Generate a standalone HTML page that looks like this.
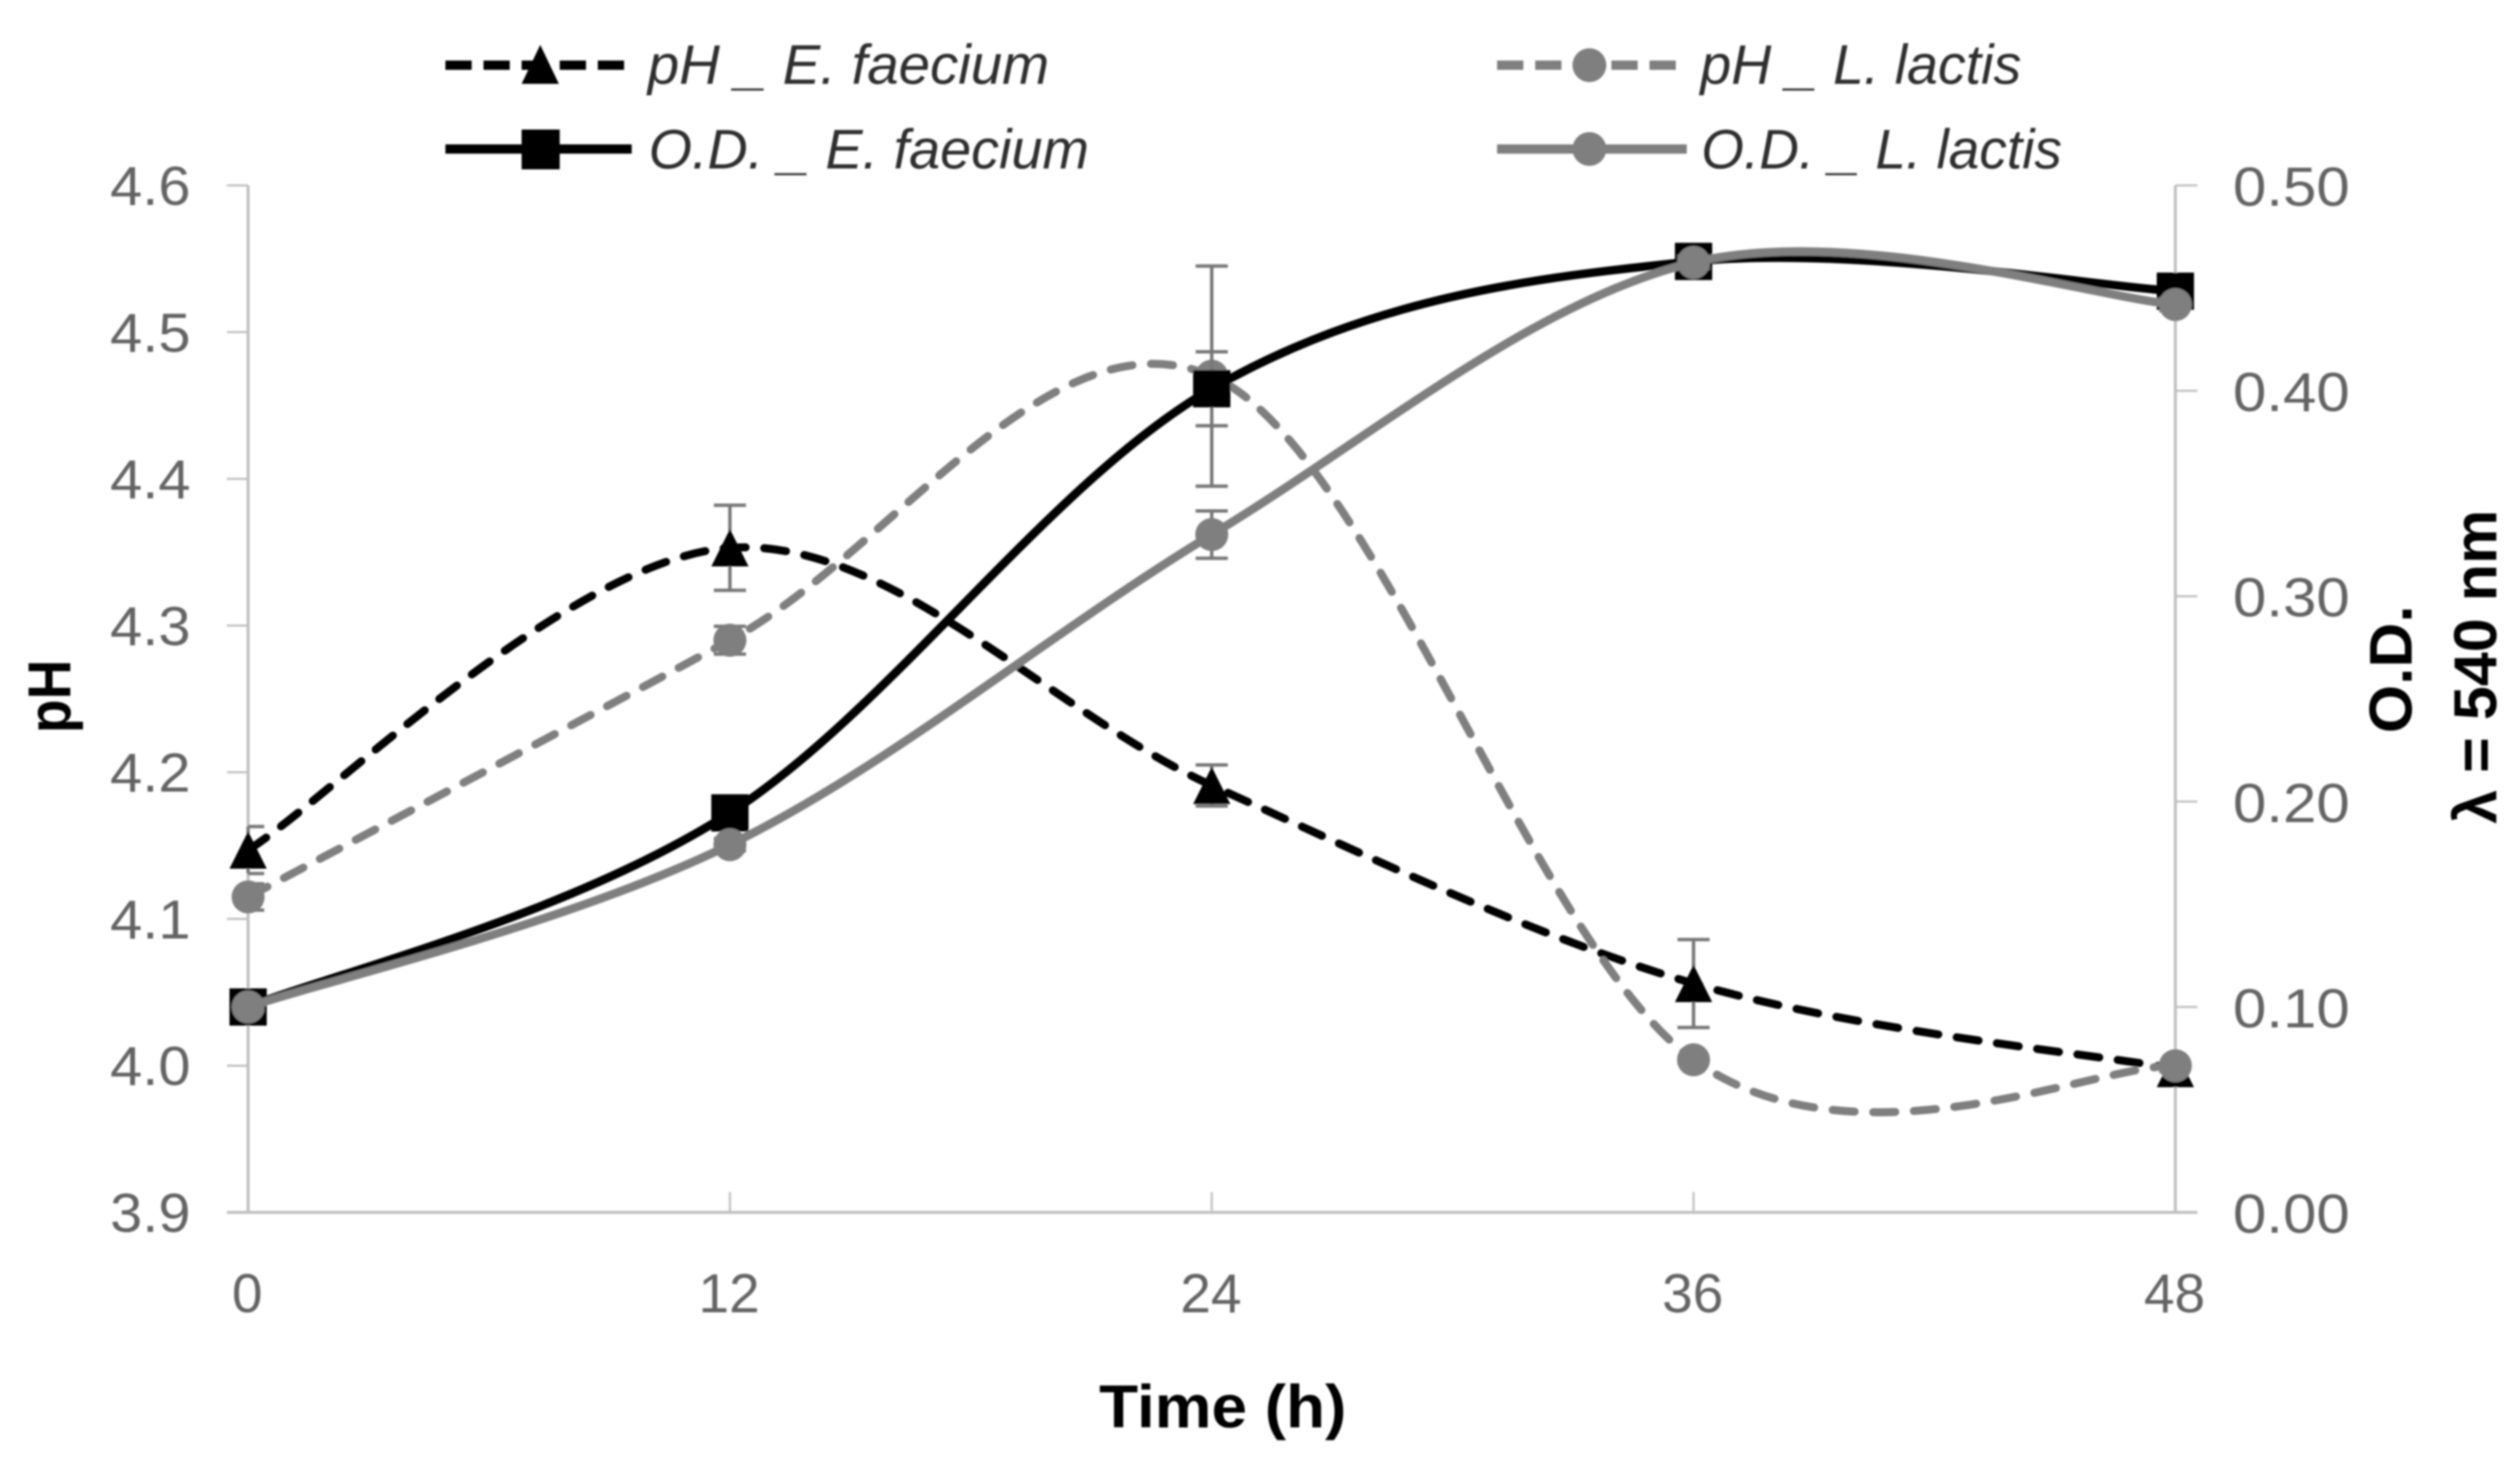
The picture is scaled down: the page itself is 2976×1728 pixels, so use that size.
<!DOCTYPE html>
<html lang="en">
<head>
<meta charset="utf-8">
<title>pH and O.D. over time</title>
<style>
html,body{margin:0;padding:0;background:#fff;width:2976px;height:1728px;overflow:hidden}
svg{display:block}
text{font-family:"Liberation Sans",sans-serif}
.tick{font-size:65px;fill:#646464}
.title{font-size:71px;font-weight:bold;fill:#000}
.leg{font-size:66px;font-style:italic;fill:#2e2e2e}
</style>
</head>
<body>
<svg id="chart" xmlns="http://www.w3.org/2000/svg" width="2976" height="1728" viewBox="0 0 2976 1728">
<defs>
<filter id="soft" filterUnits="userSpaceOnUse" x="0" y="0" width="2976" height="1728"><feGaussianBlur stdDeviation="1.1"/></filter>
</defs>
<rect width="2976" height="1728" fill="#fff"/>
<g id="root" filter="url(#soft)">
  <g id="axes"></g>
  <g id="series"></g>

  <text class="title" x="1298" y="1686" textLength="292" lengthAdjust="spacingAndGlyphs">Time (h)</text>
  <text class="title" transform="translate(83 866) rotate(-90)" textLength="87" lengthAdjust="spacingAndGlyphs">pH</text>
  <text class="title" transform="translate(2848 866) rotate(-90)" textLength="151" lengthAdjust="spacingAndGlyphs">O.D.</text>
  <text class="title" transform="translate(2948 973) rotate(-90)" textLength="371" lengthAdjust="spacingAndGlyphs">λ = 540 nm</text>

  <g>
    <g>
      <line x1="526" y1="77" x2="746" y2="77" stroke="#000" stroke-width="11" stroke-dasharray="31 14"/>
      <polygon points="638,53 660,99 616,99" fill="#000"/>
      <text class="leg" x="765" y="99" textLength="474" lengthAdjust="spacingAndGlyphs">pH _ E. faecium</text>
    </g>
    <g>
      <line x1="1768" y1="77" x2="1992" y2="77" stroke="#7f7f7f" stroke-width="11" stroke-dasharray="31 14"/>
      <circle cx="1877" cy="77" r="20" fill="#7f7f7f"/>
      <text class="leg" x="2008" y="99" textLength="379" lengthAdjust="spacingAndGlyphs">pH _ L. lactis</text>
    </g>
    <g>
      <line x1="526" y1="176" x2="746" y2="176" stroke="#000" stroke-width="11"/>
      <rect x="616" y="153" width="45" height="47" fill="#000"/>
      <text class="leg" x="766" y="199" textLength="520" lengthAdjust="spacingAndGlyphs">O.D. _ E. faecium</text>
    </g>
    <g>
      <line x1="1768" y1="176" x2="1992" y2="176" stroke="#7f7f7f" stroke-width="11"/>
      <circle cx="1877" cy="176" r="20" fill="#7f7f7f"/>
      <text class="leg" x="2009" y="199" textLength="426" lengthAdjust="spacingAndGlyphs">O.D. _ L. lactis</text>
    </g>
  </g>
</g>
</svg>
<script>
// ---- chart data ----
var timeHours = [0, 12, 24, 36, 48];
var phTicks = ["3.9", "4.0", "4.1", "4.2", "4.3", "4.4", "4.5", "4.6"];
var odTicks = ["0.00", "0.10", "0.20", "0.30", "0.40", "0.50"];
var phEfaecium = [4.147, 4.353, 4.191, 4.056, 3.998];
var phEfaeciumErr = [0.016, 0.029, 0.014, 0.030, 0.002];
var phLlactis = [4.115, 4.290, 4.470, 4.004, 4.000];
var phLlactisErr = [0.009, 0.0095, 0.075, 0.002, 0.002];
var odEfaecium = [0.100, 0.1945, 0.401, 0.463, 0.4485];
var odEfaeciumErr = [0.002, 0.003, 0.018, 0.003, 0.003];
var odLlactis = [0.100, 0.179, 0.330, 0.4625, 0.442];
var odLlactisErr = [0.002, 0.003, 0.0115, 0.003, 0.003];

// ---- axis functions ----
var NS = 'http://www.w3.org/2000/svg';
var plotLeft = 293, plotRight = 2569, plotTop = 219, plotBottom = 1432;
var phMin = 3.9, phMax = 4.6, odMin = 0, odMax = 0.5, tMin = 0, tMax = 48;
function xAt(t) { return plotLeft + (t - tMin) / (tMax - tMin) * (plotRight - plotLeft); }
function yPh(v) { return plotBottom - (v - phMin) / (phMax - phMin) * (plotBottom - plotTop); }
function yOd(v) { return plotBottom - (v - odMin) / (odMax - odMin) * (plotBottom - plotTop); }

function mk(tag, parent) {
  var el = document.createElementNS(NS, tag);
  parent.appendChild(el);
  return el;
}
function setAll(el, props) {
  for (var k in props) { el.setAttribute(k, props[k]); }
}

// ---- axes ----
var axes = document.getElementById('axes');
function axisLine(x1, y1, x2, y2, w) {
  var el = mk('line', axes);
  setAll(el, { x1: x1, y1: y1, x2: x2, y2: y2, stroke: '#bfbfbf', 'stroke-width': w });
  
  
  return el;
}
function tickText(str, x, y, anchor, len) {
  var el = mk('text', axes);
  setAll(el, { x: x, y: y, 'class': 'tick', 'text-anchor': anchor });
  if (len) { setAll(el, { textLength: len, lengthAdjust: 'spacingAndGlyphs' }); }
  el.textContent = str;
  
  
  return el;
}
axisLine(plotLeft, plotTop, plotLeft, plotBottom, 3.5);
axisLine(plotRight, plotTop, plotRight, plotBottom, 3.5);
axisLine(plotLeft - 25, plotBottom, plotRight + 26, plotBottom, 3.5);
phTicks.forEach(function (label) {
  var y = yPh(parseFloat(label));
  axisLine(plotLeft - 25, y, plotLeft, y, 2.5);
  tickText(label, 130, y + 23, 'start', 95);
});
odTicks.forEach(function (label) {
  var y = yOd(parseFloat(label));
  axisLine(plotRight, y, plotRight + 26, y, 2.5);
  tickText(label, 2637, y + 24, 'start', 138);
});
timeHours.forEach(function (t) {
  var x = xAt(t);
  axisLine(x, plotBottom - 24, x, plotBottom, 2.5);
  tickText(String(t), x - 1, 1550, 'middle');
});

// ---- series drawing ----
var seriesLayer = document.getElementById('series');

function smoothPath(pts) {
  var d = 'M' + pts[0][0] + ' ' + pts[0][1];
  for (var i = 0; i < pts.length - 1; i++) {
    var p0 = pts[Math.max(i - 1, 0)], p1 = pts[i], p2 = pts[i + 1], p3 = pts[Math.min(i + 2, pts.length - 1)];
    var c1x = p1[0] + (p2[0] - p0[0]) / 6, c1y = p1[1] + (p2[1] - p0[1]) / 6;
    var c2x = p2[0] - (p3[0] - p1[0]) / 6, c2y = p2[1] - (p3[1] - p1[1]) / 6;
    d += 'C' + c1x + ' ' + c1y + ' ' + c2x + ' ' + c2y + ' ' + p2[0] + ' ' + p2[1];
  }
  return d;
}

function drawErrors(group, values, errs, yFn) {
  values.forEach(function (v, i) {
    var x = xAt(timeHours[i]);
    var top = yFn(v + errs[i]), bot = yFn(v - errs[i]);
    var x1 = Math.max(x - 19, plotLeft), x2 = Math.min(x + 19, plotRight);
    var stem = mk('line', group);
    setAll(stem, { x1: x, x2: x, y1: top, y2: bot, stroke: '#777', 'stroke-width': 4 });
    
    
    [top, bot].forEach(function (y) {
      var cap = mk('line', group);
      setAll(cap, { x1: x1, x2: x2, y1: y, y2: y, stroke: '#777', 'stroke-width': 4 });
      
      
    });
  });
}

function drawMarker(group, kind, x, y, color) {
  var el;
  if (kind === 'triangle') {
    el = mk('polygon', group);
    el.setAttribute('points', x + ',' + (y - 22) + ' ' + (x + 22) + ',' + (y + 22) + ' ' + (x - 22) + ',' + (y + 22));
  } else if (kind === 'square') {
    el = mk('rect', group);
    setAll(el, { x: x - 22, y: y - 22, width: 44, height: 44 });
  } else {
    el = mk('circle', group);
    setAll(el, { cx: x, cy: y, r: 19.5 });
  }
  el.setAttribute('fill', color);
  
  
}

function drawSeries(name, values, errs, yFn, color, dashed, kind) {
  var g = mk('g', seriesLayer);
  
  
  drawErrors(g, values, errs, yFn);
  var pts = values.map(function (v, i) { return [xAt(timeHours[i]), yFn(v)]; });
  var path = mk('path', g);
  setAll(path, { d: smoothPath(pts), fill: 'none', stroke: color, 'stroke-width': dashed ? 9.5 : 10 });
  if (dashed) { setAll(path, { 'stroke-dasharray': '26 22', 'stroke-linecap': 'round' }); }
  
  
  pts.forEach(function (p) { drawMarker(g, kind, p[0], p[1], color); });
}

drawSeries('series-ph-e-faecium', phEfaecium, phEfaeciumErr, yPh, '#000', true, 'triangle');
drawSeries('series-ph-l-lactis', phLlactis, phLlactisErr, yPh, '#7f7f7f', true, 'circle');
drawSeries('series-od-e-faecium', odEfaecium, odEfaeciumErr, yOd, '#000', false, 'square');
drawSeries('series-od-l-lactis', odLlactis, odLlactisErr, yOd, '#7f7f7f', false, 'circle');
</script>
</body>
</html>
